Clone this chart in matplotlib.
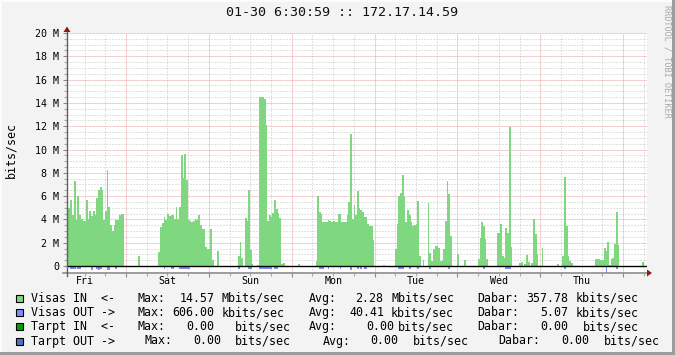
import numpy as np
import matplotlib
matplotlib.use("Agg")
import matplotlib.pyplot as plt
from matplotlib.lines import Line2D
from matplotlib.patches import Rectangle, Polygon

# ---------------- data (Mbit/s, 30-minute steps, 48 steps per chunk) ----------------
step_hours = 0.5
in_chunk0 = [5.0, 5.0, 5.7, 4.4, 7.3, 3.95, 6.0, 4.35, 4.0, 3.9, 3.85, 5.65, 4.05, 4.7, 4.3, 4.7,
             4.4, 5.85, 6.5, 6.8, 6.5, 3.95, 4.7, 8.2, 5.05, 3.5, 3.0, 3.5, 3.95, 3.95, 4.35, 4.5,
             4.5, 0, 0, 0, 0, 0, 0, 0, 0, 0.85, 0, 0, 0, 0, 0, 0]
in_chunk1 = [0, 0, 0, 0, 0, 1.2, 3.35, 3.7, 4.2, 3.95, 4.5, 4.3, 4.4, 4.4, 4.05, 5.1,
             4.05, 5.05, 9.55, 7.55, 9.6, 7.35, 3.95, 3.85, 3.8, 3.85, 4.0, 3.95, 4.4, 3.5, 3.2, 3.2,
             1.6, 1.45, 1.45, 3.15, 0.5, 0, 0, 1.3, 0, 0, 0, 0, 0, 0, 0, 0]
in_chunk2 = [0, 0, 0, 0.86, 2.05, 0.7, 0, 4.1, 3.9, 6.5, 1.35, 0.17, 0, 0, 0.1, 14.5,
             14.5, 14.5, 14.3, 12.1, 3.85, 4.4, 4.2, 4.55, 5.65, 4.9, 4.55, 4.15, 0.2, 0.25, 0, 0,
             0, 0, 0, 0, 0, 0, 0.15, 0, 0, 0, 0, 0, 0, 0, 0, 0]
in_chunk3 = [0.45, 6.0, 4.6, 4.5, 3.8, 3.8, 3.8, 3.95, 3.9, 3.8, 3.9, 3.8, 3.8, 4.45, 4.45, 3.8,
             3.75, 3.75, 4.4, 5.5, 11.3, 4.0, 5.2, 4.4, 6.4, 5.0, 4.8, 4.65, 4.2, 4.2, 3.6, 3.4,
             3.4, 2.2, 0, 0, 0, 0, 0, 0.1, 0, 0, 0, 0, 0, 0, 1.5, 3.6]
in_chunk4 = [6.0, 6.3, 7.8, 5.9, 3.8, 4.8, 4.4, 3.8, 3.45, 3.55, 3.6, 5.6, 0.9, 0, 0.55, 0,
             0, 5.45, 1.1, 0.4, 1.45, 1.75, 1.75, 1.55, 0.45, 0.5, 1.5, 3.9, 7.3, 6.2, 2.6, 0,
             0, 0, 1.0, 0, 0, 0, 0.55, 0, 0, 0, 0, 0, 0, 0, 0.57, 2.4]
in_chunk5 = [3.8, 3.4, 2.3, 0.6, 0, 0, 0, 0, 0, 2.85, 2.85, 3.6, 0.9, 0.65, 3.3, 2.85,
             11.9, 1.65, 0, 0, 0, 0, 0.23, 0.35, 0, 0.2, 0.97, 0.35, 0, 0.23, 4.0, 2.75,
             1.0, 0, 0, 1.55, 0, 0, 0, 0, 0, 0, 0, 0, 0.2, 0, 0, 0.9]
in_chunk6 = [7.65, 3.4, 0.9, 0.45, 0.23, 0, 0, 0, 0, 0, 0, 0, 0, 0, 0, 0,
             0, 0, 0.63, 0.63, 0.63, 0.55, 0.55, 1.55, 1.3, 2.1, 0.1, 0.6, 0.65, 1.9, 4.6, 1.8,
             0, 0, 0, 0, 0, 0, 0, 0, 0, 0, 0, 0, 0, 0.37, 0, 0]

out_chunk0 = [0, 0, 0.22, 0.22, 0.22, 0, 0.22, 0.22, 0, 0, 0, 0, 0, 0, 0.35, 0,
              0, 0.22, 0.3, 0.22, 0, 0, 0, 0.35, 0.35, 0, 0, 0, 0.22, 0, 0, 0,
              0, 0, 0, 0, 0, 0, 0, 0, 0, 0, 0, 0, 0, 0, 0, 0]
out_chunk1 = [0, 0, 0, 0, 0, 0, 0, 0, 0.22, 0, 0, 0, 0.22, 0.22, 0, 0,
              0, 0.22, 0.22, 0.22, 0.22, 0.22, 0.22, 0, 0, 0, 0, 0, 0, 0, 0, 0,
              0, 0, 0, 0, 0, 0, 0, 0, 0, 0, 0, 0, 0, 0, 0, 0]
out_chunk2 = [0, 0, 0, 0.22, 0, 0, 0, 0, 0, 0.22, 0.22, 0, 0, 0, 0, 0.22,
              0.22, 0.22, 0.22, 0.22, 0.22, 0.22, 0.22, 0, 0.22, 0.22, 0, 0, 0, 0, 0, 0,
              0, 0, 0, 0, 0, 0, 0, 0, 0, 0, 0, 0, 0, 0, 0, 0]
out_chunk3 = [0, 0, 0.22, 0.22, 0.22, 0, 0, 0.22, 0, 0, 0, 0, 0, 0, 0.22, 0,
              0, 0, 0, 0, 0.3, 0, 0, 0, 0.22, 0, 0.22, 0, 0.22, 0.22, 0, 0,
              0, 0, 0, 0, 0, 0, 0, 0, 0, 0, 0, 0, 0, 0, 0, 0]
out_chunk4 = [0.22, 0.22, 0.22, 0, 0, 0, 0.22, 0, 0, 0, 0, 0.22, 0, 0, 0, 0,
              0, 0, 0.22, 0, 0, 0, 0, 0, 0, 0, 0, 0, 0, 0.22, 0, 0,
              0, 0, 0, 0, 0, 0, 0, 0, 0, 0, 0, 0, 0, 0, 0, 0]
out_chunk5 = [0, 0.22, 0, 0, 0, 0, 0, 0, 0, 0, 0, 0, 0, 0, 0.22, 0.22,
              0.22, 0, 0, 0, 0, 0, 0, 0, 0, 0, 0, 0, 0, 0, 0, 0,
              0, 0, 0, 0, 0, 0, 0, 0, 0, 0, 0, 0, 0, 0, 0, 0]
out_chunk6 = [0.25, 0, 0, 0, 0, 0, 0, 0, 0, 0, 0, 0, 0, 0, 0, 0,
              0, 0, 0, 0, 0, 0, 0, 0, 0.606, 0, 0, 0, 0, 0, 0.22, 0,
              0, 0, 0, 0, 0, 0, 0, 0, 0, 0, 0, 0, 0, 0, 0, 0]

first_midnight = 17.1          # hours after graph start
day_names = ["Fri", "Sat", "Sun", "Mon", "Tue", "Wed", "Thu"]
y_major = [0, 2, 4, 6, 8, 10, 12, 14, 16, 18, 20]
y_labels = ["0", "2 M", "4 M", "6 M", "8 M", "10 M", "12 M", "14 M", "16 M", "18 M", "20 M"]

title = "01-30 6:30:59 :: 172.17.14.59"
legend_rows = [
    ("#7fd87f", [(31, "Visas IN  <-"), (137.7, "Max:"), (179.3, "14.57"), (221.7, "Mbits/sec"),
                 (308.3, "Avg:"), (355, "2.28"), (391, "Mbits/sec"),
                 (477.7, "Dabar:"), (526.7, "357.78"), (576, "kbits/sec")]),
    ("#7b8cff", [(31, "Visas OUT ->"), (137.7, "Max:"), (172.7, "606.00"), (221.7, "kbits/sec"),
                 (308.3, "Avg:"), (349.3, "40.41"), (391, "kbits/sec"),
                 (477.7, "Dabar:"), (540.7, "5.07"), (576, "kbits/sec")]),
    ("#00a000", [(31, "Tarpt IN  <-"), (137.7, "Max:"), (186.7, "0.00"), (235, "bits/sec"),
                 (308.3, "Avg:"), (366, "0.00"), (398.3, "bits/sec"),
                 (477.7, "Dabar:"), (540.7, "0.00"), (582.7, "bits/sec")]),
    ("#5070c8", [(31, "Tarpt OUT ->"), (144.7, "Max:"), (193.3, "0.00"), (235.3, "bits/sec"),
                 (323, "Avg:"), (370.7, "0.00"), (412.7, "bits/sec"),
                 (498.3, "Dabar:"), (561.7, "0.00"), (604, "bits/sec")]),
]
legend_y = [298.3, 312.7, 326.7, 341]

# ---------------- figure ----------------
W, H = 675, 355
MONO = "DejaVu Sans Mono"
fig = plt.figure(figsize=(W / 100, H / 100), dpi=100)
fig.patch.set_facecolor("#f3f3f3")

def fx(px):
    return px / W

def fy(py):
    return 1 - py / H

# 3D frame
fig.add_artist(Rectangle((0, 0), 1, fy(352), transform=fig.transFigure, color="#9c9c9c", lw=0, zorder=0))
fig.add_artist(Rectangle((fx(672), 0), 1, 1, transform=fig.transFigure, color="#9c9c9c", lw=0, zorder=0))
fig.add_artist(Rectangle((0, fy(2)), fx(672), fy(0) - fy(2), transform=fig.transFigure, color="#fcfcfc", lw=0, zorder=0))
fig.add_artist(Rectangle((0, fy(352)), fx(2), fy(0) - fy(352), transform=fig.transFigure, color="#fcfcfc", lw=0, zorder=0))

ax = fig.add_axes([fx(67), fy(273), fx(647) - fx(67), fy(33) - fy(273)])
ax.set_facecolor("white")
ax.set_xlim(0, 168)
ax.set_ylim(-0.6, 20)
for s in ax.spines.values():
    s.set_visible(False)

in_vals = np.array(in_chunk0 + in_chunk1 + in_chunk2 + in_chunk3 + in_chunk4 + in_chunk5 + in_chunk6)
out_vals = np.array(out_chunk0 + out_chunk1 + out_chunk2 + out_chunk3 + out_chunk4 + out_chunk5 + out_chunk6)
edges = np.arange(len(in_vals) + 1) * step_hours

# grid
dot_minor = (0, (1, 2))
dot_major = (0, (1, 1))
minor_y = [v for v in np.arange(-0.5, 20.01, 0.5) if abs(v / 2 - round(v / 2)) > 1e-6]
for v in minor_y:
    ax.axhline(v, color="#c4c4c4", lw=0.72, ls=dot_minor, zorder=1)
midnights = [first_midnight + 24 * k for k in range(7)]
minor_x = [first_midnight - 12 + 6 * k for k in range(28) if first_midnight - 12 + 6 * k < 168]
minor_x = [m for m in minor_x if all(abs(m - d) > 0.1 for d in midnights)]
for v in minor_x:
    ax.axvline(v, color="#c4c4c4", lw=0.72, ls=dot_minor, zorder=1)
for v in y_major[1:]:
    ax.axhline(v, color="#e8a4a4", lw=0.72, ls=dot_major, zorder=1.1)
for v in midnights:
    ax.axvline(v, color="#e8a4a4", lw=0.72, ls=dot_major, zorder=1.1)

# data
ax.stairs(in_vals, edges, fill=True, color="#7fd87f", lw=0, baseline=0, zorder=2)
ax.stairs(-out_vals, edges, fill=True, color="#7b8cff", lw=0, baseline=0, zorder=2)
ax.axhline(0, color="black", lw=1.0, zorder=3)

# ticks
ax.set_xticks(midnights)
ax.set_xticklabels([])
ax.set_xticks(minor_x, minor=True)
ax.set_yticks(y_major)
ax.set_yticklabels(y_labels, family=MONO, fontsize=7.2)
ax.set_yticks(minor_y, minor=True)
ax.tick_params(axis="both", which="major", length=3, width=0.8, color="#8a8a8a", direction="out")
ax.tick_params(axis="both", which="minor", length=2, width=0.8, color="#a8a8a8", direction="out")
ax.tick_params(axis="y", which="major", pad=2.5)

for k, name in enumerate(day_names):
    ax.text(first_midnight - 12 + 24 * k, -0.033, name, transform=ax.get_xaxis_transform(),
            ha="center", va="center", family=MONO, fontsize=7.2, color="black")

# axis lines with arrows
fig.add_artist(Line2D([fx(63), fx(648)], [fy(273), fy(273)], transform=fig.transFigure,
                      color="#909090", lw=1.2, zorder=4))
fig.add_artist(Line2D([fx(67), fx(67)], [fy(276), fy(30)], transform=fig.transFigure,
                      color="#606060", lw=1.0, zorder=4))
fig.add_artist(Polygon([[fx(647), fy(269.5)], [fx(647), fy(276.5)], [fx(652), fy(273)]],
                       transform=fig.transFigure, color="#8b1a1a", lw=0, zorder=5))
fig.add_artist(Polygon([[fx(63.5), fy(32)], [fx(70.5), fy(32)], [fx(67), fy(26.5)]],
                       transform=fig.transFigure, color="#8b1a1a", lw=0, zorder=5))

# texts
fig.text(fx(342), fy(13), title, ha="center", va="center", family=MONO, fontsize=9.6, color="#111111")
fig.text(fx(11), fy(150), "bits/sec", rotation=90, ha="center", va="center", family=MONO,
         fontsize=8.4, color="black")
fig.text(fx(666.5), fy(61), "RRDTOOL / TOBI OETIKER", rotation=270, ha="center", va="center",
         family=MONO, fontsize=6.1, color="#a8a8a8")

for (col, pieces), yy in zip(legend_rows, legend_y):
    fig.add_artist(Rectangle((fx(16), fy(yy + 3.5)), fx(7), fy(0) - fy(7), transform=fig.transFigure,
                             facecolor=col, edgecolor="black", lw=0.8, zorder=5))
    for xx, txt in pieces:
        fig.text(fx(xx), fy(yy), txt, ha="left", va="center", family=MONO, fontsize=8.4, color="black")

fig.savefig("out.png", dpi=100, facecolor=fig.get_facecolor())
